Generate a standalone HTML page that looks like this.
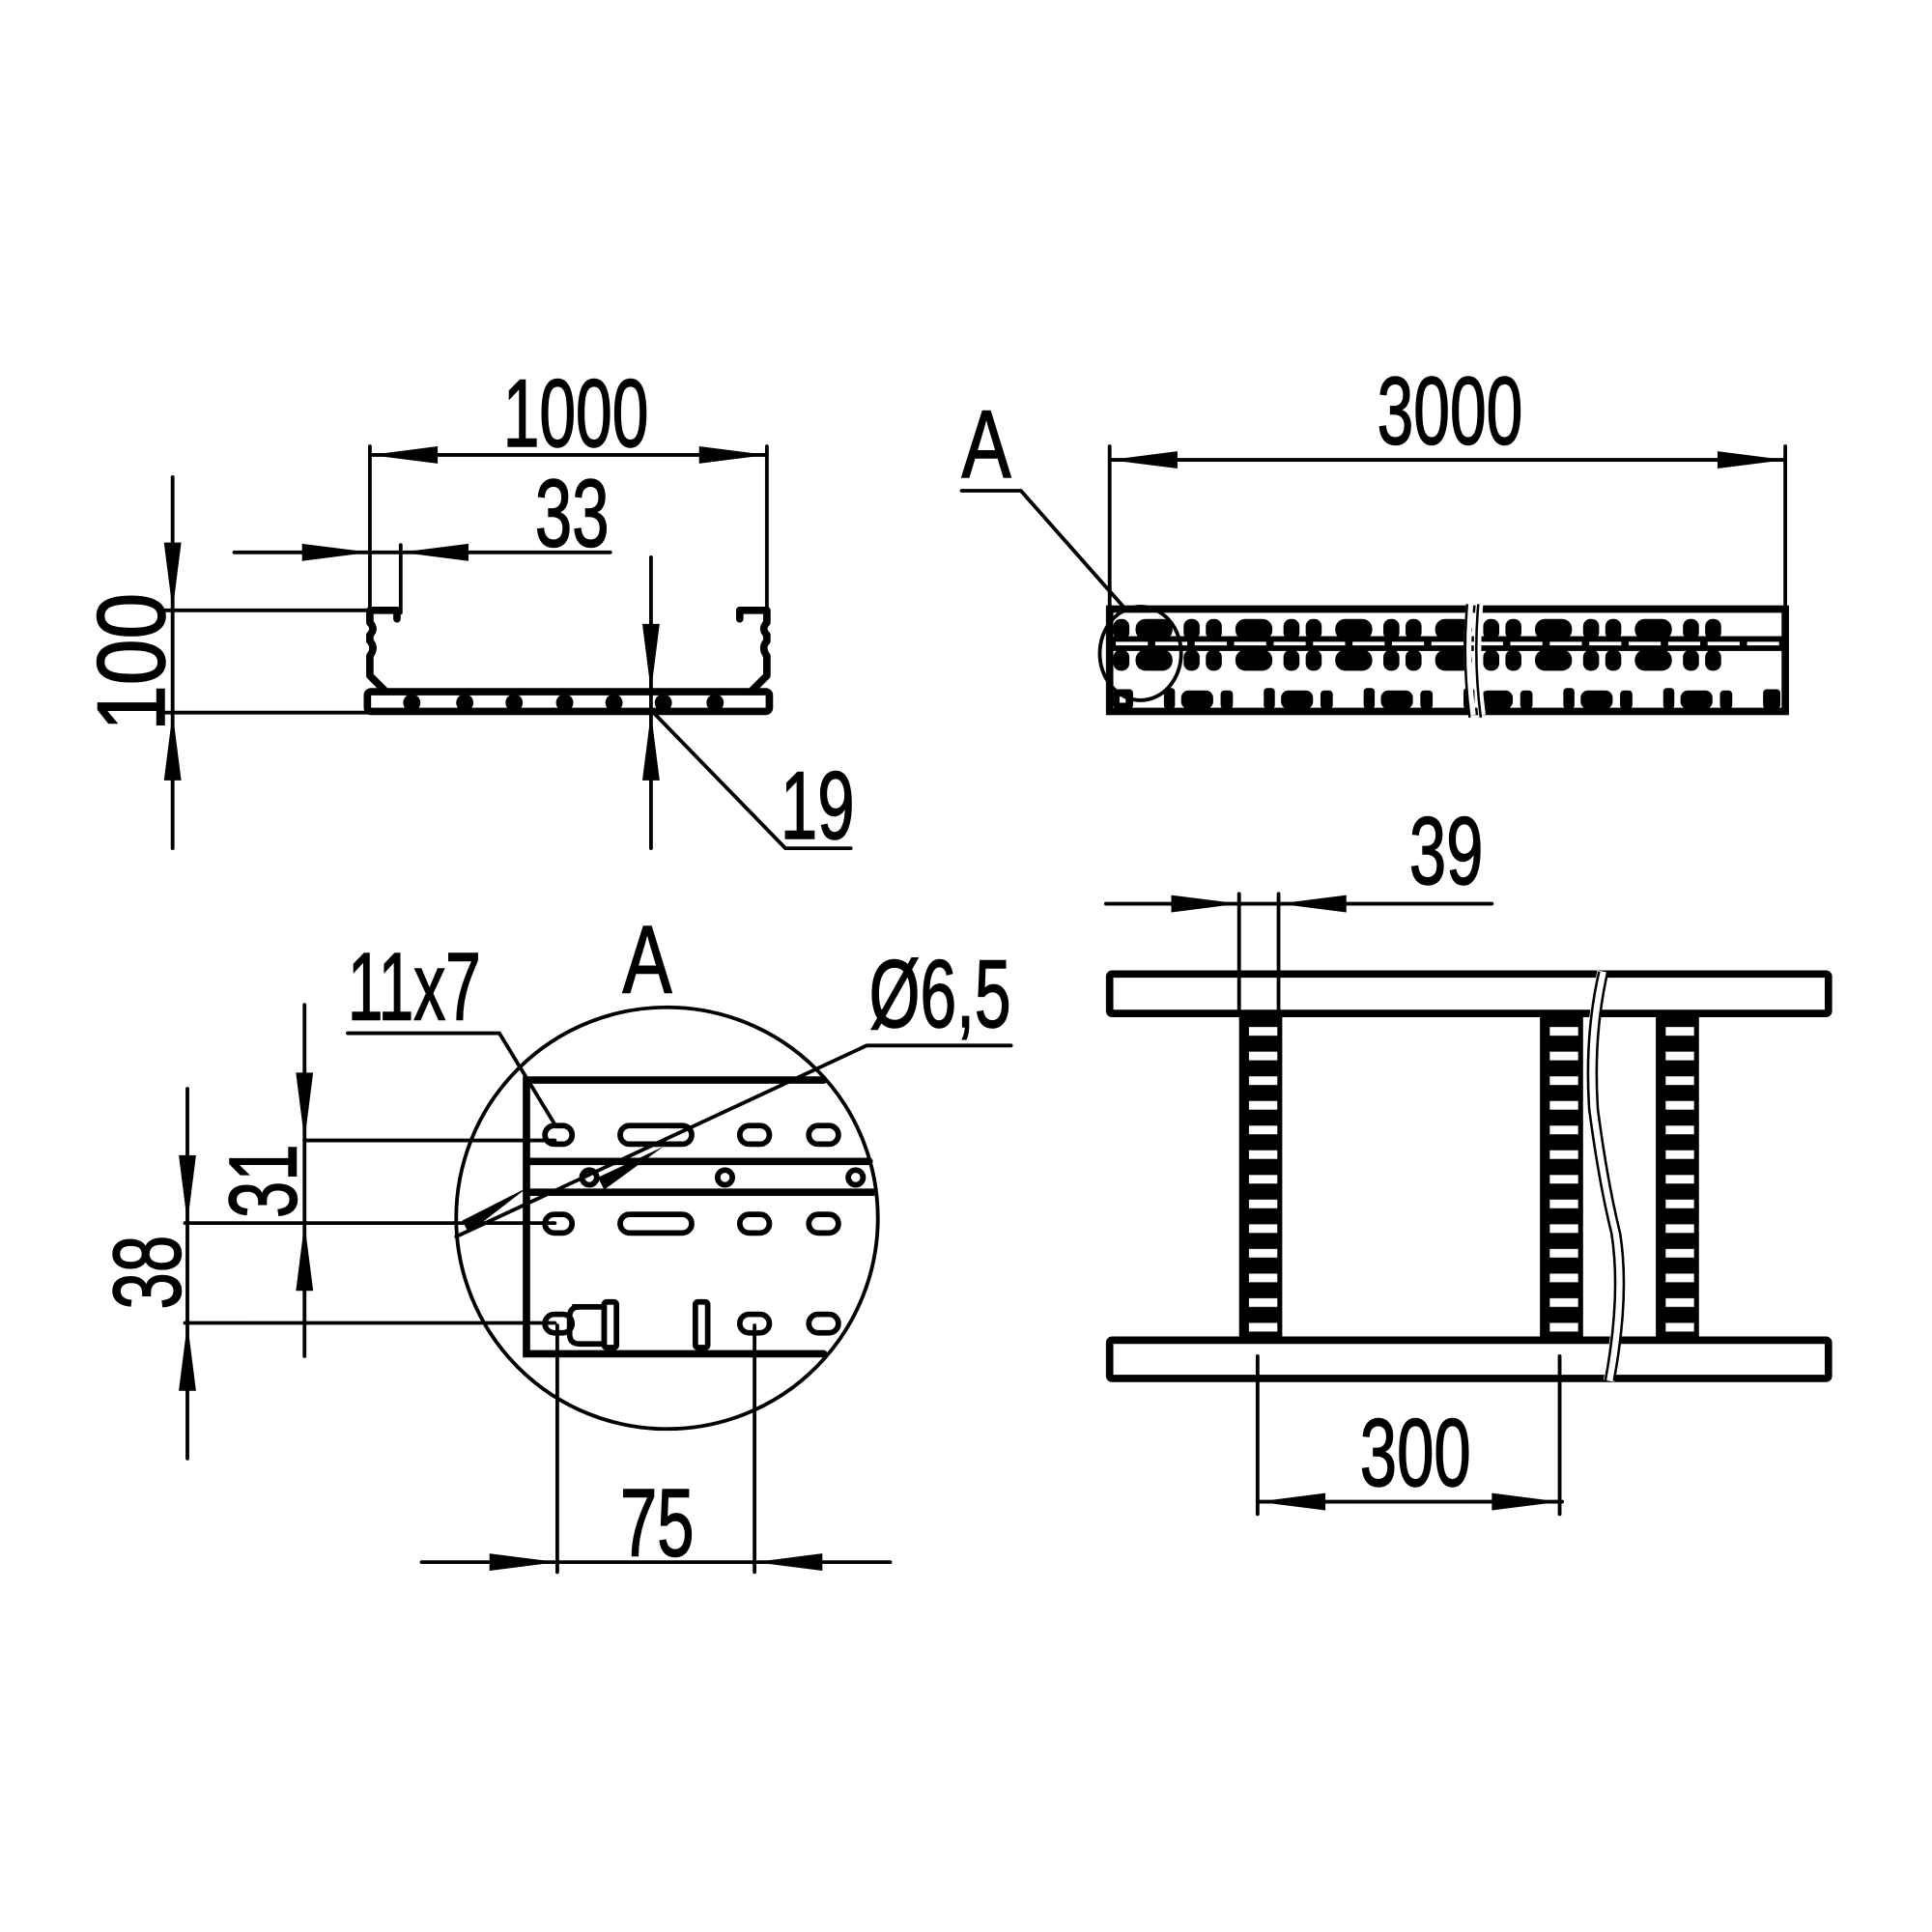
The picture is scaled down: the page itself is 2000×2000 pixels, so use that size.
<!DOCTYPE html>
<html><head><meta charset="utf-8"><style>html,body{margin:0;padding:0;background:#fff}svg{display:block}</style></head>
<body>
<svg width="2000" height="2000" viewBox="0 0 1567 1567" xmlns="http://www.w3.org/2000/svg" font-family="Liberation Sans, sans-serif">
<rect width="1567" height="1567" fill="#fff"/>
<g stroke="#000" stroke-width="3" fill="none" stroke-linecap="round">
<line x1="300" y1="369" x2="622" y2="369"/>
<line x1="300" y1="362" x2="300" y2="495"/>
<line x1="622" y1="362" x2="622" y2="495"/>
<line x1="190" y1="448" x2="495" y2="448"/>
<line x1="325" y1="442" x2="325" y2="497"/>
<line x1="140" y1="387" x2="140" y2="688"/>
<line x1="133" y1="495" x2="300" y2="495"/>
<line x1="133" y1="578" x2="300" y2="578"/>
<line x1="528" y1="452" x2="528" y2="688"/>
<polyline points="530,578 637,688 690,688"/>
<g stroke-width="6" stroke-linejoin="round">
<path d="M300,495 H322 V502 M300,495 V505 Q305,510 300,515 V520 Q305,525 300,532 V548 L312,560"/>
<path d="M622,495 H600 V502 M622,495 V505 Q617,510 622,515 V520 Q617,525 622,532 V548 L610,560"/>
<rect x="298" y="561" width="326" height="16" rx="3"/>
</g>
<g fill="#000" stroke="none">
<circle cx="334" cy="570" r="7"/><circle cx="377" cy="570" r="7"/><circle cx="417" cy="570" r="7"/><circle cx="458" cy="570" r="7"/><circle cx="498" cy="570" r="7"/><circle cx="538" cy="570" r="7"/><circle cx="580" cy="570" r="7"/>
</g>
<line x1="900" y1="373" x2="1448" y2="373"/>
<line x1="900" y1="362" x2="900" y2="495"/>
<line x1="1448" y1="362" x2="1448" y2="495"/>
<polyline points="780,398 828,398 912,493"/>
<rect x="900" y="494" width="548" height="83" stroke-width="6"/>
</g>
<g fill="#000">
<rect x="900" y="516" width="548" height="12"/>
<g id="per">
<rect x="921" y="502" width="30" height="17" rx="8"/><rect x="921" y="527" width="30" height="17" rx="8"/>
<rect x="960" y="502" width="13" height="17" rx="6"/><rect x="978" y="502" width="13" height="17" rx="6"/>
<rect x="960" y="527" width="13" height="17" rx="6"/><rect x="978" y="527" width="13" height="17" rx="6"/>
<rect x="944" y="558" width="9" height="17" rx="3"/><rect x="958" y="560" width="26" height="15" rx="6"/>
<rect x="990" y="560" width="10" height="15" rx="3"/>
</g>
<use href="#per" x="81"/><use href="#per" x="162"/><use href="#per" x="243"/><use href="#per" x="324"/><use href="#per" x="405"/>
<rect x="903" y="502" width="13" height="17" rx="6"/><rect x="903" y="527" width="13" height="17" rx="6"/>
<rect x="903" y="559" width="16" height="16" rx="3"/>
<rect x="1430" y="559" width="14" height="16" rx="3"/>
</g>
<rect x="908" y="565" width="5" height="5" fill="#fff"/>
<g stroke="#fff" stroke-width="3">
<line x1="905" y1="522" x2="1445" y2="522" stroke-dasharray="26,6"/>
</g>
<ellipse cx="925" cy="530" rx="33" ry="38" stroke="#000" stroke-width="3" fill="none"/>
<path d="M1192,490 Q1188,535 1194,580 M1200,490 Q1196,535 1202,580" stroke="#fff" stroke-width="6" fill="none"/>
<path d="M1190,490 Q1186,535 1192,582 M1199,490 Q1195,535 1201,582" stroke="#000" stroke-width="2" fill="none"/>
<g stroke="#000" stroke-width="3" fill="none" stroke-linecap="round">
<circle cx="541" cy="988" r="171"/>
<path d="M668,876 H427 V1098 H668" stroke-width="6"/>
<line x1="427" y1="942" x2="705" y2="942" stroke-width="6"/>
<line x1="427" y1="967" x2="708" y2="967" stroke-width="6"/>
<g stroke-width="4.5">
<rect x="442" y="913" width="22" height="15" rx="7.5"/><rect x="503" y="913" width="58" height="15" rx="7.5"/><rect x="600" y="913" width="24" height="15" rx="7.5"/><rect x="656" y="913" width="24" height="15" rx="7.5"/>
<rect x="442" y="985" width="22" height="15" rx="7.5"/><rect x="503" y="985" width="58" height="15" rx="7.5"/><rect x="600" y="985" width="24" height="15" rx="7.5"/><rect x="656" y="985" width="24" height="15" rx="7.5"/>
<rect x="442" y="1066" width="22" height="15" rx="7.5"/><rect x="600" y="1066" width="24" height="15" rx="7.5"/><rect x="656" y="1066" width="24" height="15" rx="7.5"/>
<path d="M464,1060 H490 V1090 H470 Q462,1090 462,1082 V1068 Q462,1060 470,1060 Z"/><rect x="490" y="1056" width="10" height="37" rx="2"/>
<rect x="564" y="1056" width="10" height="37" rx="2"/>
<circle cx="478" cy="955" r="6"/><circle cx="588" cy="955" r="6"/><circle cx="694" cy="955" r="6"/>
</g>
<polyline points="282,838 405,838 450,912"/>
<polyline points="820,848 703,848 370,1003"/>
<line x1="247" y1="815" x2="247" y2="1100"/>
<line x1="247" y1="925" x2="450" y2="925"/>
<line x1="150" y1="992" x2="450" y2="992"/>
<line x1="152" y1="883" x2="152" y2="1183"/>
<line x1="150" y1="1073" x2="450" y2="1073"/>
<line x1="342" y1="1267" x2="722" y2="1267"/>
<line x1="452" y1="1075" x2="452" y2="1275"/>
<line x1="612" y1="1075" x2="612" y2="1275"/>
<rect x="900" y="790" width="583" height="32" rx="2" stroke-width="6"/>
<rect x="900" y="1087" width="583" height="31" rx="2" stroke-width="6"/>
<line x1="897" y1="733" x2="1210" y2="733"/>
<line x1="1005" y1="725" x2="1005" y2="822"/>
<line x1="1037" y1="725" x2="1037" y2="822"/>
<line x1="1020" y1="1100" x2="1020" y2="1228"/>
<line x1="1265" y1="1100" x2="1265" y2="1228"/>
<line x1="1020" y1="1218" x2="1267" y2="1218"/>
</g>
<defs>
<pattern id="lad" x="0" y="826" width="40" height="20" patternUnits="userSpaceOnUse">
<rect width="40" height="20" fill="#000"/><rect x="0" y="7" width="40" height="7" fill="#fff"/>
</pattern>
</defs>
<g>
<rect x="1005" y="822" width="35" height="265" fill="#000"/><rect x="1013" y="822" width="23" height="265" fill="url(#lad)"/>
<rect x="1249" y="822" width="35" height="265" fill="#000"/><rect x="1257" y="822" width="23" height="265" fill="url(#lad)"/>
<rect x="1343" y="822" width="35" height="265" fill="#000"/><rect x="1351" y="822" width="23" height="265" fill="url(#lad)"/>
</g>
<path d="M1300,788 Q1288,840 1292,900 Q1300,960 1310,1000 Q1318,1050 1305,1120" stroke="#fff" stroke-width="9" fill="none"/>
<path d="M1297,788 Q1285,840 1289,900 Q1297,960 1307,1000 Q1315,1050 1302,1120 M1304,788 Q1292,840 1296,900 Q1304,960 1314,1000 Q1322,1050 1309,1120" stroke="#000" stroke-width="2" fill="none"/>
<g fill="#000">
<polygon points="300,369 355,362 355,376"/><polygon points="622,369 567,362 567,376"/>
<polygon points="300,448 245,441 245,455"/><polygon points="325,448 380,441 380,455"/>
<polygon points="140,495 133,440 147,440"/><polygon points="140,578 133,633 147,633"/>
<polygon points="528,561 521,506 535,506"/><polygon points="528,578 521,633 535,633"/>
<polygon points="900,373 955,366 955,380"/><polygon points="1448,373 1393,366 1393,380"/>
<polygon points="247,925 240,870 254,870"/><polygon points="247,992 240,1047 254,1047"/>
<polygon points="152,992 145,937 159,937"/><polygon points="152,1073 145,1128 159,1128"/>
<polygon points="452,1267 397,1260 397,1274"/><polygon points="612,1267 667,1260 667,1274"/>
<polygon points="1005,733 950,726 950,740"/><polygon points="1037,733 1092,726 1092,740"/>
<polygon points="1020,1218 1075,1211 1075,1225"/><polygon points="1265,1218 1210,1211 1210,1225"/>
<polygon points="428,963 375,990 380,1000"/><polygon points="538,930 485,955 490,965"/>
</g>
<g font-size="78" fill="#000" stroke="#000" stroke-width="1.2">
<text x="408" y="362" textLength="118" lengthAdjust="spacingAndGlyphs">1000</text>
<text x="434" y="443" textLength="60" lengthAdjust="spacingAndGlyphs">33</text>
<text x="633" y="680" textLength="60" lengthAdjust="spacingAndGlyphs">19</text>
<text transform="translate(133,537) rotate(-90)" x="-56" y="0" textLength="112" lengthAdjust="spacingAndGlyphs">100</text>
<text x="1117" y="360" textLength="118" lengthAdjust="spacingAndGlyphs">3000</text>
<text x="780" y="387" textLength="40" lengthAdjust="spacingAndGlyphs">A</text>
<text x="1143" y="717" textLength="60" lengthAdjust="spacingAndGlyphs">39</text>
<text x="1103" y="1205" textLength="90" lengthAdjust="spacingAndGlyphs">300</text>
<text x="505" y="805" textLength="40" lengthAdjust="spacingAndGlyphs">A</text>
<text x="282" y="827" textLength="108" lengthAdjust="spacingAndGlyphs">11x7</text>
<text x="705" y="833" textLength="115" lengthAdjust="spacingAndGlyphs">Ø6,5</text>
<text transform="translate(240,958) rotate(-90)" x="-30" y="0" textLength="60" lengthAdjust="spacingAndGlyphs">31</text>
<text transform="translate(146,1032) rotate(-90)" x="-30" y="0" textLength="60" lengthAdjust="spacingAndGlyphs">38</text>
<text x="503" y="1262" textLength="60" lengthAdjust="spacingAndGlyphs">75</text>
</g>
</svg>
</body></html>
